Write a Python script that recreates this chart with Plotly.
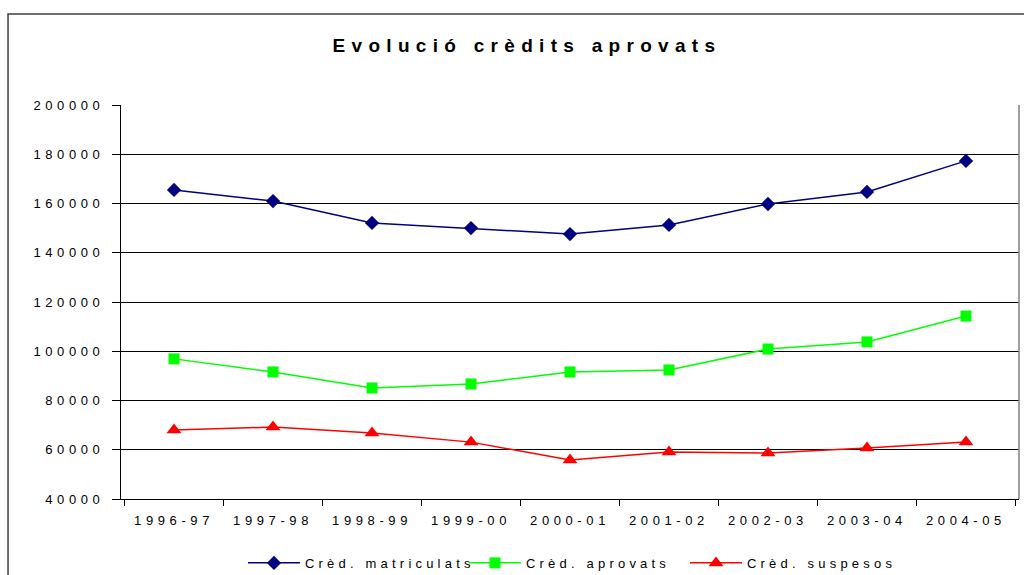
import plotly.graph_objects as go

# school years
years = ["1996-97", "1997-98", "1998-99", "1999-00", "2000-01",
         "2001-02", "2002-03", "2003-04", "2004-05"]

matriculats = [165500, 161000, 152100, 150000, 147600, 151300, 159800, 164700, 177300]
aprovats = [96900, 91600, 85100, 86700, 91600, 92400, 100900, 103800, 114300]
suspesos = [68000, 69200, 66800, 63100, 55800, 59100, 58700, 60700, 63100]

y_ticks = [40000, 60000, 80000, 100000, 120000, 140000, 160000, 180000, 200000]

_FONT = "Liberation Sans, Arial, sans-serif"

series = [
    ("Crèd. matriculats", matriculats, "#000080", "diamond", 11),
    ("Crèd. aprovats", aprovats, "#00ff00", "square", 11),
    ("Crèd. suspesos", suspesos, "#ff0000", "triangle-up", 13),
]

fig = go.Figure()
for name, vals, color, symbol, size in series:
    fig.add_trace(go.Scatter(
        x=years, y=vals, name=name,
        mode="lines+markers",
        line={"color": color, "width": 1.5},
        marker={"symbol": symbol, "size": size, "color": color},
    ))

fig.update_layout(
    width=1024, height=575,
    paper_bgcolor="white", plot_bgcolor="white",
    font={"family": _FONT, "color": "black", "size": 13},
    margin={"l": 121, "r": 5, "t": 105, "b": 76, "autoexpand": False},
    title={
        "text": "<b>Evolució crèdits aprovats</b>",
        "x": 0.5146, "xanchor": "center", "y": 0.921, "yanchor": "middle",
        "font": {"size": 19, "family": _FONT},
    },
    showlegend=True,
    legend={
        "orientation": "h", "x": 0.505, "xanchor": "center",
        "yref": "container", "y": 0.021, "yanchor": "middle",
        "font": {"size": 13}, "entrywidth": 154, "itemwidth": 52,
    },
    xaxis={
        "type": "category", "showgrid": False, "zeroline": False,
        "showline": True, "linecolor": "black", "linewidth": 1,
        "ticks": "outside", "tickson": "boundaries", "ticklen": 6,
        "tickcolor": "black", "tickfont": {"size": 13},
        "ticklabelstandoff": 9,
    },
    yaxis={
        "range": [40000, 200000], "tickvals": y_ticks, "tickformat": "d",
        "showgrid": True, "gridcolor": "black", "gridwidth": 1,
        "zeroline": False, "showline": True, "linecolor": "black",
        "ticks": "outside", "ticklen": 8, "tickcolor": "black",
        "tickfont": {"size": 13}, "ticklabelstandoff": 5,
    },
)

# right border of plot area and outer chart frame
fig.add_shape(type="line", xref="paper", yref="paper", x0=1, x1=1, y0=0, y1=1,
              line={"color": "#808080", "width": 1.5})
fig.add_shape(type="rect", xref="paper", yref="paper",
              x0=-0.1258, x1=1.2, y0=-0.4, y1=1.231,
              line={"color": "#404040", "width": 1.5})

spacing = """
document.documentElement.style.overflow='hidden';
document.body.style.overflow='hidden';
document.body.style.margin='0';
document.querySelectorAll('.gtitle').forEach(function(e){e.style.letterSpacing='6.3px';});
document.querySelectorAll('.xtick text, .ytick text').forEach(function(e){e.style.letterSpacing='4.6px';});
document.querySelectorAll('.legendtext').forEach(function(e){e.style.letterSpacing='4.2px';});
"""

fig.write_html("out.html", post_script=spacing, config={"displayModeBar": False})
